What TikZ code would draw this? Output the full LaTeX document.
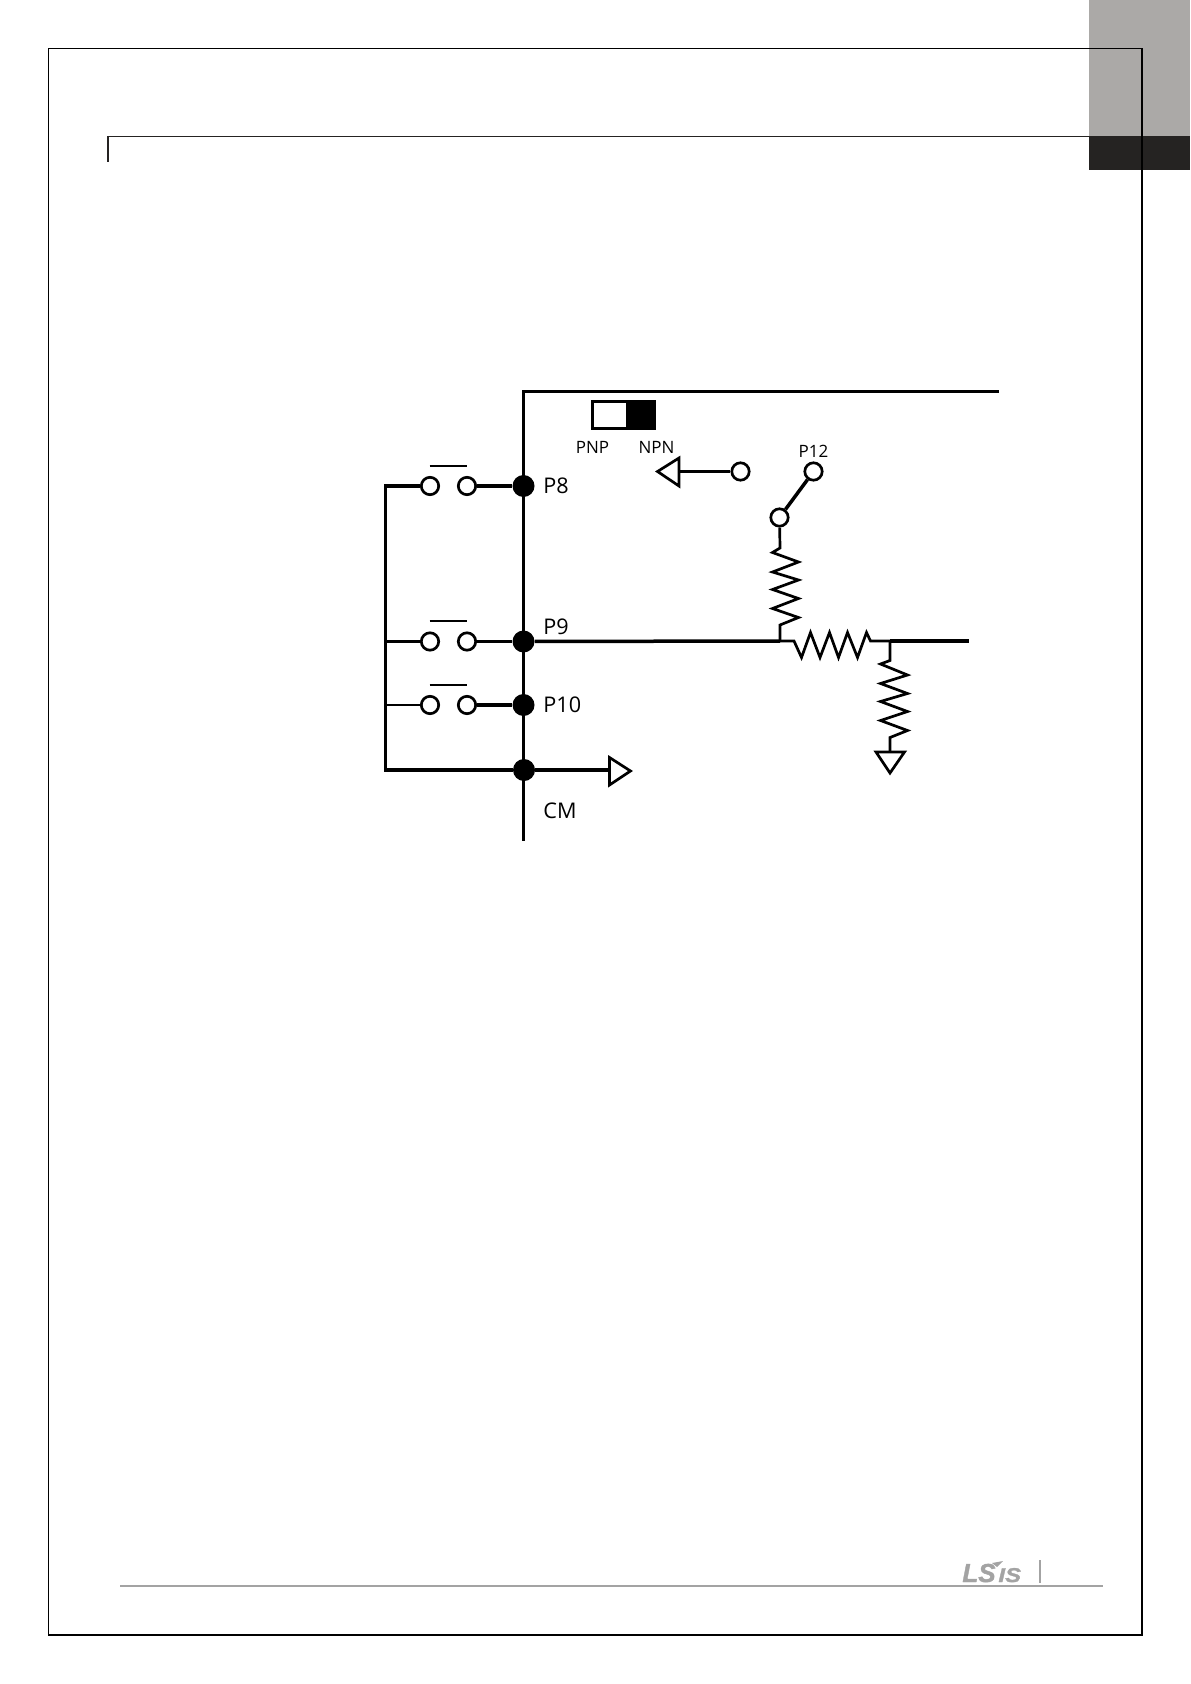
\documentclass[tikz,border=0pt]{standalone}
\usepackage{fontspec}
\setmainfont{Open Sans}
\newfontfamily\logofont[BoldItalicFeatures={FakeBold=1.5}]{Liberation Sans}
\newfontfamily\logowide[BoldItalicFeatures={FakeBold=1.5,FakeStretch=1.2}]{Liberation Sans}
\definecolor{tabgray}{HTML}{ABA9A7}
\definecolor{tabdark}{HTML}{252322}
\definecolor{footgray}{HTML}{A3A3A3}
\tikzset{
  opendot/.style={circle, draw, fill=white, line width=1.35pt, inner sep=0pt, minimum size=8.7pt},
  termdot/.style={circle, fill, inner sep=0pt, minimum size=11pt},
  biglabel/.style={anchor=west, inner sep=0pt, font=\fontsize{10.8}{12}\selectfont},
  smalllabel/.style={inner sep=0pt, font=\fontsize{8.5}{10}\selectfont},
  wire/.style={line width=1.75pt},
  thinwire/.style={line width=1.35pt},
  frameline/.style={line width=0.65pt}
}
\begin{document}
\begin{tikzpicture}[x=0.5pt, y=-0.5pt]
\useasboundingbox (0,0) rectangle (1190,1684);
% page furniture
\fill[tabgray] (1089,0) rectangle (1190,136);
\fill[tabdark] (1089,136) rectangle (1190,170);
\draw[frameline] (48.5,48.5) rectangle (1142,1635);
\draw[frameline, tabdark] (108,136.5) -- (1089,136.5);
\draw[line width=1pt, tabdark] (108,136) -- (108,162);
\draw[line width=1pt, footgray] (120,1586) -- (1103,1586);
\draw[line width=1pt, footgray] (1040,1560) -- (1040,1583);
\node[anchor=base west, inner sep=0pt, footgray, font=\logofont\bfseries\itshape\fontsize{13}{14}\selectfont] (logols) at (962,1582){LS};
\node[anchor=base west, inner sep=0pt, footgray, font=\logowide\bfseries\itshape\fontsize{10}{12}\selectfont] (logois) at (998,1582){IS};
\fill[footgray] (992,1563) -- (1003,1561) -- (997,1567) -- cycle;
% main rails
\coordinate (railtop) at (523.5,391.5);
\coordinate (railend) at (999,391.5);
\coordinate (railbot) at (523.5,841);
\node[termdot] (p8) at (523.5,486){};
\node[termdot] (p9) at (523.5,641.5){};
\node[termdot] (p10) at (523.5,705){};
\node[termdot] (cm) at (524,770){};
\draw[wire] (railend) -- (railtop) -- (railbot);
\coordinate (bus8) at (385.5,486);
\coordinate (bus9) at (385.5,641.5);
\coordinate (bus10) at (385.5,705);
\coordinate (buscm) at (385.5,770);
% switches
\node[opendot] (s8a) at (430,486){};
\node[opendot] (s8b) at (467,486){};
\node[opendot] (s9a) at (430,641.5){};
\node[opendot] (s9b) at (467,641.5){};
\node[opendot] (s10a) at (430,705){};
\node[opendot] (s10b) at (467,705){};
\draw[wire] (s8a) -- (bus8) -- (buscm) -- (cm);
\draw[wire] (s8b) -- (p8);
\draw[wire] (bus9) -- (s9a);
\draw[wire] (s9b) -- (p9);
\draw[thinwire] (bus10) -- (s10a);
\draw[wire] (s10b) -- (p10);
\draw[thinwire] (429.5,466) -- (467,466);
\draw[thinwire] (429.5,621) -- (467,621);
\draw[thinwire] (429.5,685) -- (467,685);
% labels
\node[biglabel] (lp8) at (543,486){P8};
\node[biglabel] (lp9) at (543,627){P9};
\node[biglabel] (lp10) at (543,705){P10};
\node[biglabel] (lcm) at (543,811){CM};
\node[smalllabel] (lpnp) at (592.5,447){PNP};
\node[smalllabel] (lnpn) at (656.5,447){NPN};
\node[smalllabel] (lp12) at (813.5,451.5){P12};
% PNP NPN selector
\fill (626,401) rectangle (654.5,429);
\draw[wire] (592.5,401.5) rectangle (654.5,428.5);
% reference arrow
\node[opendot] (vr) at (740.5,471.5){};
\coordinate (vrbase) at (679,471.5);
\draw[wire] (vr) -- (vrbase);
\draw[thinwire, line join=miter] (679,458) -- (657.5,471.5) -- (679,486) -- cycle;
% P12 branch
\node[opendot] (p12) at (813.5,471.5){};
\node[opendot] (pot) at (779.5,517.5){};
\draw[wire] (p12) -- (pot);
\coordinate (rtop) at (780,548);
\coordinate (rjoin) at (780,641);
\draw[thinwire] (pot) -- (rtop) -- (772.5,552.5) -- (798.5,562) -- (772.5,572) -- (798.5,580) -- (772.5,589.5) -- (798.5,598.5) -- (772.5,608.5) -- (798.5,617.5) -- (780,625) -- (rjoin);
% P9 wire and resistors
\coordinate (rsout) at (890,641);
\coordinate (outend) at (968.5,641);
\draw[wire] (p9) -- (rjoin);
\draw[thinwire] (rjoin) -- (794,641) -- (801.5,657.5) -- (810.5,632.5) -- (820,657.5) -- (829.5,632.5) -- (838.5,657.5) -- (847.5,632.5) -- (857.5,657.5) -- (866.5,632.5) -- (870.5,641) -- (rsout);
\draw[wire] (rsout) -- (outend);
\coordinate (gndtop) at (890,752);
\draw[thinwire] (rsout) -- (890,660.5) -- (880.5,664) -- (907.5,675) -- (880.5,683.5) -- (907.5,693.5) -- (880.5,701.5) -- (907.5,711.5) -- (880.5,720.5) -- (907.5,730.5) -- (890,737.5) -- (gndtop);
\draw[thinwire, line join=miter] (876,752) -- (904.5,752) -- (890,773) -- cycle;
% CM arrow
\coordinate (cmbase) at (609.5,770);
\draw[wire] (cm) -- (cmbase);
\draw[thinwire, line join=miter] (609.5,757.5) -- (630.5,771) -- (609.5,785) -- cycle;
\end{tikzpicture}
\end{document}
